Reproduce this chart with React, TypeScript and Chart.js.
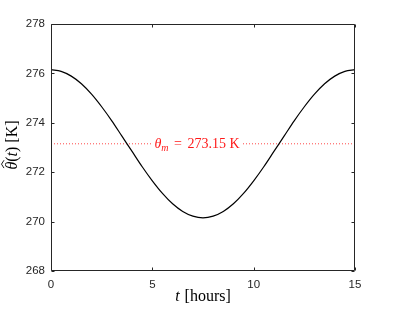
import React, { useEffect, useRef } from "react";
import { Chart, registerables } from "chart.js";

Chart.register(...registerables);

// Time in hours
const hours = [
  0, 0.5, 1, 1.5, 2, 2.5, 3, 3.5, 4, 4.5, 5, 5.5, 6, 6.5, 7, 7.5,
  8, 8.5, 9, 9.5, 10, 10.5, 11, 11.5, 12, 12.5, 13, 13.5, 14, 14.5, 15,
];
// Estimated temperature theta-hat(t) in K
const thetaHat = [
  276.15, 276.08, 275.89, 275.58, 275.16, 274.65, 274.08, 273.46, 272.84, 272.22,
  271.65, 271.14, 270.72, 270.41, 270.22, 270.15, 270.22, 270.41, 270.72, 271.14,
  271.65, 272.22, 272.84, 273.46, 274.08, 274.65, 275.16, 275.58, 275.89, 276.08,
  276.15,
];
// Mean temperature reference line
const thetaMValue = 273.15;
const thetaMLineX = [0, 15];
const thetaMLabel = "273.15 K";

const xTicks = [0, 5, 10, 15];
const yTicks = [268, 270, 272, 274, 276, 278];
const xRange = [0, 15];
const yRange = [268, 278];

const AXIS_COLOR = "#262626";
const RED = "rgb(255,25,25)";
const SERIF = '"Liberation Serif", "DejaVu Serif", serif';
const SANS = '"Liberation Sans", Arial, sans-serif';

const decorPlugin = {
  id: "decor",
  afterDatasetsDraw(chart: any) {
    const { ctx, scales } = chart;
    const x = scales.x;
    const y = scales.y;
    const cx = x.getPixelForValue(7.5) - 6;
    const yPix = y.getPixelForValue(thetaMValue);
    const base = yPix + 4.5;
    const fMain = "14px " + SERIF;
    const fIt = "italic 14px " + SERIF;
    const fSub = "italic 10px " + SERIF;
    ctx.save();
    ctx.font = fIt;
    const wTheta = ctx.measureText("θ").width;
    ctx.font = fSub;
    const wM = ctx.measureText("m").width;
    ctx.font = fMain;
    const wEq = ctx.measureText("=").width;
    const wNum = ctx.measureText(thetaMLabel).width;
    const gap = 5.5;
    const total = wTheta + wM + gap + wEq + gap + wNum;
    let px = cx - total / 2;
    ctx.fillStyle = "#ffffff";
    ctx.fillRect(px - 2, yPix - 3, total + 4, 6);
    ctx.fillStyle = RED;
    ctx.textBaseline = "alphabetic";
    ctx.textAlign = "left";
    ctx.font = fIt;
    ctx.fillText("θ", px, base);
    px += wTheta;
    ctx.font = fSub;
    ctx.fillText("m", px, base + 2.5);
    px += wM + gap;
    ctx.font = fMain;
    ctx.fillText("=", px, base);
    px += wEq + gap;
    ctx.fillText(thetaMLabel, px, base);
    ctx.restore();
  },
  afterDraw(chart: any) {
    const { ctx, chartArea: a, scales } = chart;
    const x = scales.x;
    const y = scales.y;
    const L = Math.round(a.left) + 0.5;
    const R = Math.round(a.right) - 0.5;
    const T = Math.round(a.top) + 0.5;
    const B = Math.round(a.bottom) - 0.5;
    ctx.save();
    ctx.strokeStyle = AXIS_COLOR;
    ctx.lineWidth = 1;
    ctx.beginPath();
    ctx.rect(L, T, R - L, B - T);
    const tl = 3;
    xTicks.forEach((v) => {
      const p = Math.round(x.getPixelForValue(v)) + 0.5;
      ctx.moveTo(p, B);
      ctx.lineTo(p, B - tl);
      ctx.moveTo(p, T);
      ctx.lineTo(p, T + tl);
    });
    yTicks.forEach((v) => {
      const p = Math.round(y.getPixelForValue(v)) + 0.5;
      ctx.moveTo(L, p);
      ctx.lineTo(L + tl, p);
      ctx.moveTo(R, p);
      ctx.lineTo(R - tl, p);
    });
    ctx.stroke();

    // x title: t [hours]
    ctx.fillStyle = "#000";
    ctx.textBaseline = "alphabetic";
    ctx.textAlign = "left";
    const fIt = "italic 16px " + SERIF;
    const fRm = "16px " + SERIF;
    ctx.font = fIt;
    const wt = ctx.measureText("t").width;
    ctx.font = fRm;
    const wr = ctx.measureText(" [hours]").width;
    const sx = (a.left + a.right) / 2 - (wt + wr + 1) / 2;
    ctx.font = fIt;
    ctx.fillText("t", sx, 301);
    ctx.font = fRm;
    ctx.fillText(" [hours]", sx + wt + 1, 301);

    // y title: theta-hat(t) [K]
    ctx.translate(17, 145);
    ctx.rotate(-Math.PI / 2);
    const parts: [string, string][] = [
      ["θ", fIt],
      ["(", fRm],
      ["t", fIt],
      [")", fRm],
      [" [K]", fRm],
    ];
    let tw = 0;
    parts.forEach(([s, f]) => {
      ctx.font = f;
      tw += ctx.measureText(s).width;
    });
    let qx = -tw / 2;
    parts.forEach(([s, f], i) => {
      ctx.font = f;
      const w = ctx.measureText(s).width;
      ctx.fillText(s, qx, 0);
      if (i === 0) {
        // hat accent over theta
        ctx.beginPath();
        ctx.strokeStyle = "#000";
        ctx.lineWidth = 0.9;
        ctx.moveTo(qx + 1.5, -13);
        ctx.lineTo(qx + w / 2 + 1.5, -15.5);
        ctx.lineTo(qx + w + 1.5, -13);
        ctx.stroke();
      }
      qx += w;
    });
    ctx.restore();
  },
};

export default function App() {
  const ref = useRef<HTMLCanvasElement | null>(null);
  useEffect(() => {
    if (!ref.current) return;
    const chart = new Chart(ref.current, {
      type: "line",
      data: {
        datasets: [
          {
            data: hours.map((h, i) => ({ x: h, y: thetaHat[i] })),
            borderColor: "#000000",
            borderWidth: 1.2,
            pointRadius: 0,
            cubicInterpolationMode: "monotone",
            fill: false,
          },
          {
            data: thetaMLineX.map((h) => ({ x: h, y: thetaMValue })),
            borderColor: "rgba(255,40,40,0.85)",
            borderWidth: 1,
            borderDash: [1, 2],
            pointRadius: 0,
            fill: false,
          },
        ],
      },
      options: {
        responsive: false,
        animation: false,
        devicePixelRatio: 1,
        layout: { padding: { top: 24, right: 38, left: 0, bottom: 0 } },
        plugins: {
          legend: { display: false },
          tooltip: { enabled: false },
        },
        scales: {
          x: {
            type: "linear",
            min: xRange[0],
            max: xRange[1],
            afterFit: (s: any) => {
              s.height = 41;
            },
            afterBuildTicks: (s: any) => {
              s.ticks = xTicks.map((v) => ({ value: v }));
            },
            grid: { display: false, drawTicks: false },
            border: { display: false },
            ticks: {
              color: AXIS_COLOR,
              font: { family: SANS, size: 11.5 },
              padding: 7,
              maxRotation: 0,
            },
          },
          y: {
            type: "linear",
            min: yRange[0],
            max: yRange[1],
            afterFit: (s: any) => {
              s.width = 51;
            },
            afterBuildTicks: (s: any) => {
              s.ticks = yTicks.map((v) => ({ value: v }));
            },
            grid: { display: false, drawTicks: false },
            border: { display: false },
            ticks: {
              color: AXIS_COLOR,
              font: { family: SANS, size: 11.5 },
              padding: 6,
            },
          },
        },
      },
      plugins: [decorPlugin],
    } as any);
    return () => chart.destroy();
  }, []);
  return (
    <div style={{ position: "absolute", left: 0, top: 0, width: 393, height: 312, background: "#fff" }}>
      <canvas ref={ref} width={393} height={312} style={{ display: "block" }} />
    </div>
  );
}
